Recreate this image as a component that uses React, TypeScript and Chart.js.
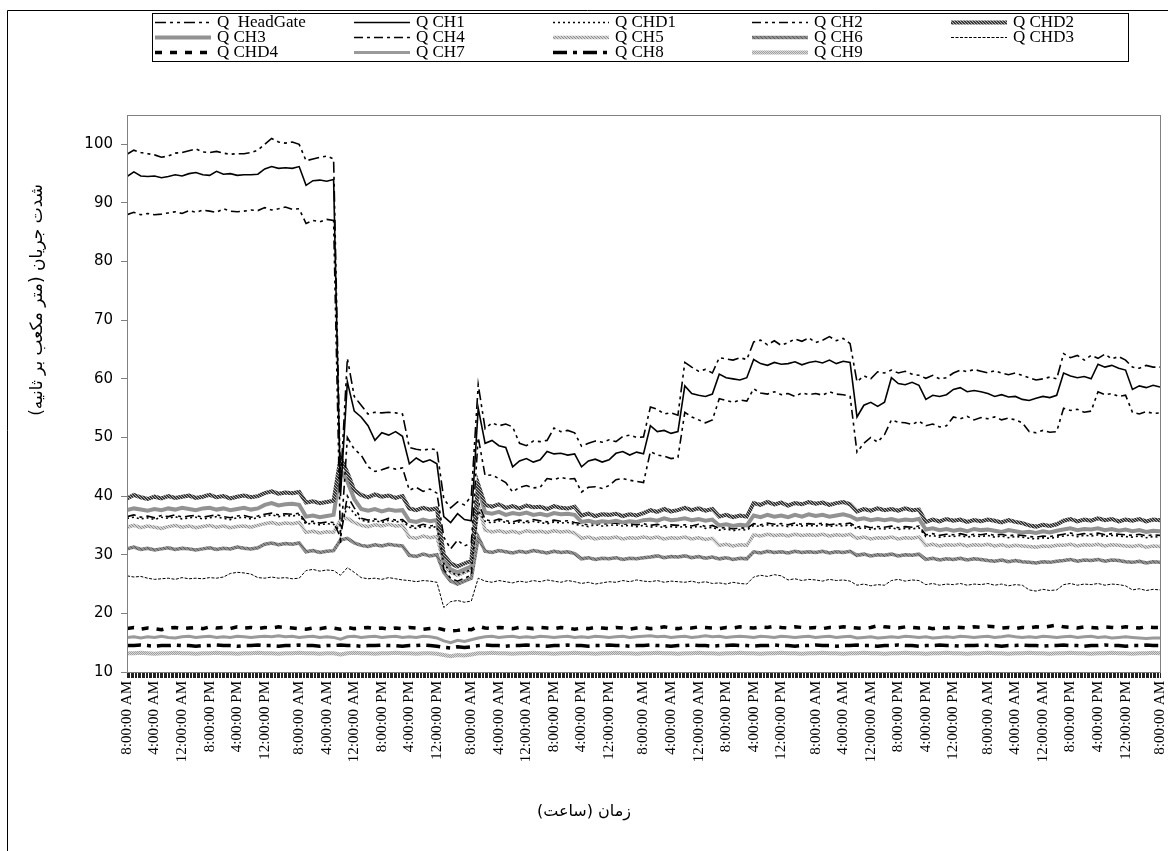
import React, { useEffect, useRef } from 'react';
import { Chart, registerables } from 'chart.js';

Chart.register(...registerables);

// ---------- axis / categories ----------
const TICK_LABELS = [
  '8:00:00 AM', '4:00:00 AM', '12:00:00 AM', '8:00:00 PM', '4:00:00 PM', '12:00:00 PM',
  '8:00:00 AM', '4:00:00 AM', '12:00:00 AM', '8:00:00 PM', '4:00:00 PM', '12:00:00 PM',
  '8:00:00 AM', '4:00:00 AM', '12:00:00 AM', '8:00:00 PM', '4:00:00 PM', '12:00:00 PM',
  '8:00:00 AM', '4:00:00 AM', '12:00:00 AM', '8:00:00 PM', '4:00:00 PM', '12:00:00 PM',
  '8:00:00 AM', '4:00:00 AM', '12:00:00 AM', '8:00:00 PM', '4:00:00 PM', '12:00:00 PM',
  '8:00:00 AM', '4:00:00 AM', '12:00:00 AM', '8:00:00 PM', '4:00:00 PM', '12:00:00 PM',
  '8:00:00 AM',
];
// number of time steps between consecutive labelled categories (repeating)
const LABEL_STEPS = [20, 20, 20, 20, 20, 25];
// every series is sampled every SAMPLE_STEP time steps
const SAMPLE_STEP = 5;

const Y_TICKS = [10, 20, 30, 40, 50, 60, 70, 80, 90, 100];

const SERIES_NAMES = [
  'Q  HeadGate', 'Q CH1', 'Q CHD1', 'Q CH2', 'Q CHD2',
  'Q CH3', 'Q CH4', 'Q CH5', 'Q CH6', 'Q CHD3',
  'Q CHD4', 'Q CH7', 'Q CH8', 'Q CH9',
];

// ---------- series values ----------
const Q_HEADGATE = [
  98.3, 99.0, 98.6, 98.4, 98.2, 97.8, 98.0, 98.5, 98.6, 98.9,
  99.2, 98.7, 98.6, 98.8, 98.5, 98.3, 98.4, 98.4, 98.6, 99.0,
  100.0, 101.0, 100.4, 100.2, 100.4, 100.0, 97.2, 97.5, 97.8, 98.0,
  97.5, 42.0, 63.5, 57.0, 55.5, 54.0, 54.3, 54.2, 54.3, 54.2,
  54.0, 48.3, 48.0, 47.8, 48.1, 47.9, 39.5, 38.0, 39.0, 38.5,
  40.0, 59.0, 51.5, 52.5, 52.0, 52.3, 51.8, 49.0, 48.6, 49.4,
  49.3, 49.5, 51.6, 51.0, 51.2, 50.8, 48.5, 49.0, 49.4, 49.2,
  49.6, 49.3, 50.2, 50.4, 50.0, 50.1, 55.2, 54.8, 54.0, 54.2,
  53.8, 62.8, 62.0, 61.3, 61.6, 61.0, 63.6, 63.4, 63.2, 63.6,
  63.3, 66.3, 66.6, 65.8, 66.5, 65.7, 66.2, 66.8, 66.4, 67.0,
  66.2, 66.6, 67.2, 66.5, 66.9, 66.0, 59.5, 60.5, 60.0, 61.2,
  61.0, 61.5, 61.0, 61.3, 60.8, 60.6, 60.1, 60.6, 60.0, 60.2,
  61.0, 61.5, 61.2, 61.6, 61.3, 61.0, 61.4, 61.0, 60.7, 61.0,
  60.6, 60.2, 59.8, 60.0, 60.3, 60.0, 64.3, 63.6, 64.0, 63.2,
  64.0, 63.5, 64.2, 63.4, 63.8, 63.2, 62.0, 61.8, 62.3, 62.0,
  62.0,
];
const Q_CH1 = [
  94.5, 95.3, 94.6, 94.5, 94.6, 94.3, 94.5, 94.8, 94.6, 95.0,
  95.2, 94.8, 94.7, 95.4, 94.9, 95.0, 94.7, 94.8, 94.8, 94.9,
  95.8, 96.2, 95.9, 96.0, 95.9, 96.2, 93.0, 93.8, 93.9, 93.7,
  94.0, 40.0, 59.5, 54.5, 53.5, 52.0, 49.5, 50.8, 50.4, 51.0,
  50.2, 45.5, 46.5, 45.8, 46.2, 45.5, 36.5, 35.5, 37.0, 36.0,
  35.8, 55.0, 49.0, 49.5, 48.6, 48.3, 45.0, 46.0, 46.4, 45.8,
  46.2, 47.6, 47.2, 47.3, 47.0, 47.2, 45.0, 46.0, 46.3, 45.8,
  46.2, 47.3, 47.6, 47.0, 47.5, 47.2, 52.0, 51.0, 51.2, 50.7,
  51.0, 58.8, 57.5, 57.2, 57.0, 57.4, 60.8, 60.2, 60.0, 59.8,
  60.2, 63.3, 62.6, 62.3, 62.8, 62.5, 62.6, 62.9, 62.4, 62.8,
  63.0, 62.7, 63.2, 62.6, 63.0, 62.8, 53.5, 55.5, 56.0, 55.3,
  56.0, 60.2, 59.2, 59.0, 59.4, 58.9, 56.5, 57.2, 57.0, 57.3,
  58.2, 58.5, 57.8, 58.0, 57.8, 57.5, 57.0, 57.3, 56.9, 57.0,
  56.5, 56.3, 56.7, 57.0, 56.8, 57.2, 61.0, 60.5, 60.2, 60.4,
  60.0, 62.5, 62.0, 62.3, 61.8, 61.5, 58.2, 58.8, 58.5, 58.9,
  58.6,
];
const Q_CHD1 = [
  36.2, 36.4, 36.1, 36.3, 36.0, 36.4, 36.2, 36.5, 36.1, 36.3,
  36.4, 36.1, 36.3, 36.5, 36.2, 36.0, 36.3, 36.4, 36.1, 36.3,
  36.6, 36.8, 36.5, 36.7, 36.6, 36.8, 35.2, 35.4, 35.1, 35.3,
  35.2, 34.0, 38.5, 37.0, 35.9, 35.6, 35.8, 35.5, 35.9, 35.6,
  35.7, 34.7, 34.5, 34.9, 34.6, 34.8, 28.5, 27.0, 26.5, 27.0,
  27.5, 37.5, 35.7, 35.4, 35.8, 35.5, 35.3, 35.6, 35.4, 35.7,
  35.5, 35.3, 35.6, 35.4, 35.5, 35.2, 35.0, 34.8, 35.1, 34.9,
  35.0, 35.1, 34.9, 35.0, 34.8, 35.0, 34.7, 34.9, 34.6, 34.8,
  34.7, 34.8, 34.6, 34.9, 34.5, 34.7, 34.2, 34.4, 34.1, 34.3,
  34.2, 35.0, 34.8, 35.1, 34.9, 35.0, 34.8, 35.1, 34.9, 35.0,
  34.9, 35.1, 34.8, 35.0, 34.9, 35.1, 34.4, 34.6, 34.3, 34.5,
  34.4, 34.6, 34.3, 34.5, 34.4, 34.6, 33.1, 33.3, 33.0, 33.2,
  33.1, 33.3, 33.0, 33.2, 33.1, 33.3, 33.0, 33.2, 32.9, 33.1,
  33.0, 32.8, 32.7, 32.9, 32.8, 33.0, 33.2, 33.4, 33.1, 33.3,
  33.2, 33.4, 33.1, 33.3, 33.2, 33.1, 33.0, 33.2, 32.9, 33.1,
  33.0,
];
const Q_CH2 = [
  88.0, 88.4, 88.0, 88.2, 88.0, 88.1, 88.3, 88.5, 88.2, 88.7,
  88.4, 88.8, 88.6, 88.4, 89.0, 88.6, 88.5, 88.6, 88.8, 88.7,
  89.2, 88.8, 89.0, 89.3, 88.9, 89.0, 86.5, 87.0, 86.8, 87.2,
  87.0, 32.0, 50.0, 48.0, 47.0, 45.0, 44.2, 44.5, 44.9, 44.6,
  44.8, 41.0, 41.5, 40.8, 41.2, 40.5, 33.0, 31.0, 32.5, 31.5,
  32.0, 50.0, 43.5, 43.6, 43.0, 42.3, 40.7, 41.5, 41.8, 41.4,
  41.5, 43.0, 42.8, 43.2, 42.9, 43.0, 40.7, 41.5, 41.6, 41.3,
  41.8, 42.8, 43.0, 42.7, 42.5, 42.3, 47.6, 47.0, 46.8, 46.4,
  46.6, 54.3, 53.5, 53.0, 52.5, 53.0, 56.6, 56.3, 56.0, 56.4,
  56.2, 58.3, 57.6, 57.4, 57.8, 57.3, 57.5, 57.0, 57.6, 57.3,
  57.5, 57.2, 57.8, 57.4, 57.3, 57.0, 47.5, 49.0, 50.0, 49.2,
  50.5, 53.0, 52.6, 52.5, 52.2, 52.8, 52.0, 52.3, 51.8, 52.0,
  53.5, 53.2, 53.6, 53.0, 53.4, 53.2, 53.5, 53.0, 53.3, 53.0,
  52.5, 51.0, 50.8, 51.2, 50.9, 51.0, 55.0, 54.6, 54.8, 54.3,
  54.5, 57.8, 57.3, 57.5, 57.0, 57.2, 54.3, 54.0, 54.4, 54.1,
  54.2,
];
const Q_CHD2 = [
  39.6, 40.2, 39.8, 39.5, 39.9, 39.6, 40.0, 39.7, 39.9, 40.1,
  39.7, 39.9, 40.2, 39.8, 40.0, 39.6, 39.9, 40.1, 39.8, 40.0,
  40.5, 40.8, 40.4, 40.6, 40.5, 40.7, 38.9, 39.1, 38.8, 39.0,
  39.2, 46.5, 44.0, 41.0, 40.2, 39.8, 40.3, 39.9, 40.1, 39.7,
  40.0, 37.9, 37.6, 38.0, 37.7, 37.9, 30.0, 28.5, 28.0, 28.5,
  29.0, 42.0, 38.5, 38.2, 38.6, 38.0, 38.3, 37.9, 38.4, 38.1,
  38.2, 37.8, 38.3, 38.0, 37.9, 38.2, 36.7, 37.0, 36.6, 36.9,
  36.8, 37.0, 36.6, 36.9, 36.7, 37.1, 37.6, 37.3, 37.8, 37.4,
  37.6, 38.0, 37.6, 37.9, 37.5, 37.8, 36.5, 36.8, 36.4, 36.7,
  36.5, 38.8, 38.5, 39.0, 38.6, 38.9, 38.4, 38.8, 38.6, 39.0,
  38.7, 38.9, 38.5, 38.8, 39.0, 38.6, 37.4, 37.8, 37.5, 37.9,
  37.6, 37.8, 37.5, 37.9, 37.6, 37.7, 35.6, 36.0, 35.7, 36.1,
  35.8, 36.0, 35.6, 35.9, 35.7, 36.0, 35.8, 35.5, 35.9, 35.6,
  35.4, 35.0, 34.8, 35.1, 34.9, 35.2, 35.8, 36.1, 35.7, 36.0,
  35.8, 36.2, 35.9, 36.1, 35.7, 36.0, 35.8, 36.1, 35.7, 36.0,
  35.9,
];
const Q_CH3 = [
  37.6, 37.9, 37.7, 37.5, 37.8, 37.6, 37.9, 37.7, 38.0, 37.8,
  37.6, 37.9, 38.0, 37.7, 37.9, 37.6, 37.8, 38.0, 37.7, 37.9,
  38.5, 38.8, 38.4, 38.6, 38.7, 38.5, 36.5, 36.7, 36.4, 36.6,
  36.8, 44.5, 42.5, 39.5, 37.8, 37.5, 37.8, 37.4, 37.7, 37.5,
  37.6, 35.8, 35.6, 36.0, 35.7, 35.9, 29.0, 27.5, 27.0, 27.5,
  28.0, 41.5, 37.2, 37.0, 37.3, 36.8, 37.1, 36.9, 37.2, 36.8,
  37.0, 36.7, 37.1, 36.9, 37.0, 36.8, 35.6, 35.8, 35.5, 35.7,
  35.6, 35.8, 35.5, 35.7, 35.6, 35.9, 36.0, 35.8, 36.2, 35.9,
  36.0, 36.2, 35.9, 36.1, 35.8, 36.0, 35.0, 35.2, 34.9, 35.1,
  35.0, 36.7, 36.4, 36.8, 36.5, 36.7, 36.4, 36.8, 36.5, 36.9,
  36.6, 36.8, 36.5, 36.7, 36.9, 36.6, 36.0, 36.2, 35.9, 36.1,
  35.9, 36.1, 35.8, 36.0, 35.9, 36.1, 34.3, 34.5, 34.2, 34.4,
  34.1, 34.3, 34.0, 34.4, 34.2, 34.3, 34.1, 33.9, 34.2, 34.0,
  33.8, 33.9, 33.7, 34.0, 33.8, 34.1, 34.3, 34.5, 34.2, 34.4,
  34.3, 34.5, 34.2, 34.4, 34.1, 34.3, 34.0, 34.2, 33.9, 34.1,
  34.0,
];
const Q_CH4 = [
  36.5, 36.8, 36.4, 36.6, 36.3, 36.7, 36.5, 36.8, 36.4, 36.6,
  36.7, 36.4, 36.6, 36.8, 36.5, 36.3, 36.6, 36.7, 36.4, 36.6,
  36.9, 37.1, 36.8, 37.0, 36.9, 37.1, 35.5, 35.7, 35.4, 35.6,
  35.5, 33.0, 40.0, 38.0, 36.2, 35.9, 36.1, 35.8, 36.2, 35.9,
  36.0, 35.0, 34.8, 35.2, 34.9, 35.1, 27.5, 26.0, 25.5, 26.0,
  26.5, 39.0, 36.0, 35.7, 36.1, 35.8, 35.6, 35.9, 35.7, 36.0,
  35.8, 35.6, 35.9, 35.7, 35.8, 35.5, 35.3, 35.1, 35.4, 35.2,
  35.3, 35.4, 35.2, 35.3, 35.1, 35.3, 35.0, 35.2, 34.9, 35.1,
  35.0, 35.1, 34.9, 35.2, 34.8, 35.0, 34.5, 34.7, 34.4, 34.6,
  34.5, 35.3, 35.1, 35.4, 35.2, 35.3, 35.1, 35.4, 35.2, 35.3,
  35.2, 35.4, 35.1, 35.3, 35.2, 35.4, 34.7, 34.9, 34.6, 34.8,
  34.7, 34.9, 34.6, 34.8, 34.7, 34.9, 33.4, 33.6, 33.3, 33.5,
  33.4, 33.6, 33.3, 33.5, 33.4, 33.6, 33.3, 33.5, 33.2, 33.4,
  33.3, 33.1, 33.0, 33.2, 33.1, 33.3, 33.5, 33.7, 33.4, 33.6,
  33.5, 33.7, 33.4, 33.6, 33.5, 33.4, 33.3, 33.5, 33.2, 33.4,
  33.3,
];
const Q_CH5 = [
  34.7, 35.0, 34.6, 34.9, 34.7, 34.5, 34.8, 35.0, 34.7, 34.9,
  34.6, 34.8, 35.0, 34.7, 34.9, 34.6, 34.8, 34.9, 34.7, 35.0,
  35.3, 35.5, 35.2, 35.4, 35.3, 35.5, 33.8, 34.0, 33.7, 33.9,
  33.8, 36.0, 36.2, 35.5, 35.0, 34.8, 35.1, 34.9, 35.2, 34.9,
  35.0, 33.0, 32.8, 33.2, 32.9, 33.1, 28.5, 27.0, 26.5, 27.0,
  27.5, 38.5, 34.2, 33.9, 34.1, 33.8, 34.0, 33.7, 34.1, 33.9,
  34.0, 33.8, 34.1, 33.9, 34.0, 33.7, 32.8, 33.0, 32.7, 32.9,
  32.8, 33.0, 32.7, 32.9, 32.8, 33.0, 32.8, 33.0, 32.7, 32.9,
  32.8, 33.0, 32.7, 32.9, 32.6, 32.8, 31.6, 31.8, 31.5, 31.7,
  31.6, 33.4, 33.2, 33.5, 33.3, 33.4, 33.2, 33.5, 33.3, 33.4,
  33.3, 33.5, 33.2, 33.4, 33.3, 33.5, 32.8, 33.0, 32.7, 32.9,
  32.8, 33.0, 32.7, 32.9, 32.8, 33.0, 31.6, 31.8, 31.5, 31.7,
  31.6, 31.8, 31.5, 31.7, 31.6, 31.8, 31.5, 31.7, 31.4, 31.6,
  31.5, 31.4, 31.3, 31.5, 31.4, 31.6, 31.6, 31.8, 31.5, 31.7,
  31.6, 31.8, 31.5, 31.7, 31.6, 31.5, 31.4, 31.6, 31.3, 31.5,
  31.4,
];
const Q_CH6 = [
  31.0, 31.3, 30.9, 31.1, 30.8, 31.0, 31.2, 30.9, 31.1, 31.0,
  30.8, 31.0, 31.2, 30.9, 31.1, 31.0, 31.3, 31.1, 31.0, 31.2,
  31.8, 32.0, 31.7, 31.9, 31.8, 32.0, 30.5, 30.7, 30.4, 30.6,
  30.7, 32.5, 32.8, 32.0, 31.6, 31.4, 31.7, 31.5, 31.8, 31.6,
  31.5, 29.9, 29.7, 30.1, 29.8, 30.0, 27.0, 25.5, 25.0, 25.5,
  26.0, 33.0, 30.6, 30.4, 30.7, 30.5, 30.3, 30.6, 30.4, 30.7,
  30.5, 30.3, 30.6, 30.4, 30.5, 30.2, 29.3, 29.5, 29.2, 29.4,
  29.3, 29.5, 29.2, 29.4, 29.3, 29.5, 29.6, 29.8, 29.5, 29.7,
  29.6, 29.8, 29.5, 29.7, 29.4, 29.6, 29.3, 29.5, 29.2, 29.4,
  29.3, 30.5, 30.3, 30.6, 30.4, 30.5, 30.3, 30.6, 30.4, 30.5,
  30.4, 30.6, 30.3, 30.5, 30.4, 30.6, 29.9, 30.1, 29.8, 30.0,
  29.9, 30.1, 29.8, 30.0, 29.9, 30.1, 29.2, 29.4, 29.1, 29.3,
  29.2, 29.4, 29.1, 29.3, 29.2, 29.0, 28.9, 29.1, 28.8, 29.0,
  28.8, 28.7, 28.6, 28.8, 28.7, 28.9, 29.0, 29.2, 28.9, 29.1,
  29.0, 29.2, 28.9, 29.1, 29.0, 28.8, 28.7, 28.9, 28.6, 28.8,
  28.7,
];
const Q_CHD3 = [
  26.4, 26.2, 26.3, 26.0, 25.8, 25.9, 26.0, 25.8, 26.1, 25.9,
  26.0, 25.9, 26.1, 26.0, 26.2, 26.8, 27.0, 26.9, 26.7, 26.1,
  26.0, 26.2, 26.0, 26.1, 25.9, 26.0, 27.3, 27.5, 27.2, 27.4,
  27.3, 26.5, 27.8, 27.0, 26.1, 25.9, 26.0, 25.8, 26.1, 25.9,
  25.7, 25.6, 25.4, 25.6, 25.5, 25.3, 21.0, 22.0, 22.2, 21.9,
  22.1, 26.0, 25.5, 25.3, 25.6, 25.4, 25.2, 25.5, 25.3, 25.6,
  25.4, 25.7, 25.5, 25.3, 25.6, 25.4, 25.1, 25.3, 25.0, 25.2,
  25.4, 25.3, 25.6, 25.4, 25.7, 25.5, 25.4, 25.6, 25.3, 25.5,
  25.4, 25.3, 25.5, 25.2, 25.4, 25.1, 25.2, 25.0, 25.3, 25.1,
  25.0, 26.2, 26.5, 26.3, 26.6, 26.4, 25.7, 25.9, 25.6, 25.8,
  25.7, 25.5, 25.8, 25.6, 25.7, 25.5, 24.8, 25.0, 24.7, 24.9,
  24.8, 25.6, 25.8, 25.5, 25.7, 25.6, 24.9, 25.1, 24.8, 25.0,
  24.9, 25.1, 24.8, 25.0, 24.9, 25.1, 24.8, 25.0, 24.7, 24.9,
  24.8, 24.0, 23.8, 24.1, 23.9, 24.0, 24.9, 25.1, 24.8, 25.0,
  24.9, 25.1, 24.8, 25.0, 24.9, 24.7, 24.0, 24.2, 23.9, 24.1,
  24.0,
];
const Q_CHD4 = [
  17.4, 17.6, 17.3, 17.5, 17.4, 17.2, 17.5, 17.6, 17.4, 17.5,
  17.6, 17.4, 17.7, 17.5, 17.6, 17.4, 17.7, 17.5, 17.6, 17.4,
  17.6, 17.5, 17.7, 17.6, 17.5, 17.4, 17.3, 17.5, 17.4, 17.6,
  17.5, 17.3, 17.6, 17.4, 17.5, 17.6, 17.4, 17.5, 17.3, 17.5,
  17.4, 17.6, 17.5, 17.3, 17.4, 17.5, 17.2, 17.0, 17.1, 17.3,
  17.2, 17.8, 17.5, 17.4, 17.6, 17.5, 17.4, 17.6, 17.5, 17.4,
  17.6, 17.5, 17.4, 17.6, 17.5, 17.3, 17.5, 17.4, 17.6, 17.5,
  17.4, 17.6, 17.5, 17.3, 17.5, 17.6, 17.4, 17.5, 17.7, 17.5,
  17.4, 17.6, 17.5, 17.7, 17.6, 17.5, 17.4, 17.6, 17.5, 17.7,
  17.6, 17.5, 17.7, 17.6, 17.8, 17.6, 17.5, 17.7, 17.6, 17.5,
  17.6, 17.4, 17.6, 17.5, 17.7, 17.6, 17.5, 17.4, 17.6, 17.9,
  17.7, 17.6, 17.5, 17.7, 17.6, 17.5, 17.6, 17.4, 17.6, 17.5,
  17.7, 17.6, 17.5, 17.7, 17.6, 17.8, 17.7, 17.5, 17.6, 17.4,
  17.6, 17.5, 17.7, 17.6, 17.8, 18.0, 17.7, 17.6, 17.5, 17.7,
  17.6, 17.5, 17.7, 17.6, 17.5, 17.7, 17.6, 17.5, 17.7, 17.6,
  17.6,
];
const Q_CH7 = [
  15.9, 16.0, 15.8, 16.0, 15.9, 16.1, 15.9, 15.8, 16.0, 16.1,
  15.9, 16.0, 16.1, 15.9, 16.0, 15.9, 16.1, 16.0, 15.9, 16.0,
  16.1, 16.0, 16.2, 16.0, 16.1, 15.9, 16.0, 16.1, 15.9, 16.0,
  15.9, 15.6, 16.0, 16.1, 15.9, 16.0, 16.1, 15.9, 16.0, 16.1,
  15.9, 16.0, 15.9, 16.1, 16.0, 15.8, 15.3, 15.0, 15.4, 15.2,
  15.5, 15.8, 16.0, 16.1, 15.9, 16.0, 16.1, 15.9, 16.0, 15.9,
  16.1, 16.0, 15.9, 16.0, 16.1, 15.9, 16.0, 15.9, 16.1, 16.0,
  15.9, 16.0, 16.1, 15.9, 16.0, 16.1, 16.2, 16.0, 16.1, 15.9,
  16.0, 16.1, 15.9, 16.0, 16.2, 16.0, 16.1, 15.9, 16.0, 16.1,
  16.0, 15.9, 16.1, 16.0, 15.9, 16.1, 16.0, 15.9, 16.0, 16.1,
  15.9, 16.0, 16.1, 15.9, 16.0, 16.1, 15.8, 15.9, 16.0, 15.8,
  15.9, 16.0, 15.9, 16.1, 16.0, 15.9, 16.0, 15.8, 15.9, 16.0,
  15.9, 16.1, 16.0, 15.9, 16.0, 16.1, 15.9, 16.0, 16.2, 16.0,
  15.9, 16.0, 15.9, 16.1, 16.0, 15.9, 16.0, 16.1, 15.9, 16.0,
  16.1, 15.9, 16.0, 15.8, 15.9, 16.0, 15.9, 15.8, 15.7, 15.8,
  15.8,
];
const Q_CH8 = [
  14.5, 14.5, 14.6, 14.5, 14.4, 14.5, 14.5, 14.6, 14.5, 14.5,
  14.4, 14.5, 14.5, 14.6, 14.5, 14.5, 14.4, 14.5, 14.5, 14.6,
  14.5, 14.5, 14.4, 14.5, 14.5, 14.6, 14.5, 14.5, 14.4, 14.5,
  14.5, 14.6, 14.5, 14.5, 14.4, 14.5, 14.5, 14.6, 14.5, 14.5,
  14.4, 14.5, 14.5, 14.6, 14.5, 14.4, 14.2, 14.1, 14.3, 14.2,
  14.3, 14.5, 14.6, 14.5, 14.5, 14.4, 14.5, 14.5, 14.6, 14.5,
  14.5, 14.4, 14.5, 14.5, 14.6, 14.5, 14.5, 14.4, 14.5, 14.5,
  14.6, 14.5, 14.5, 14.4, 14.5, 14.5, 14.6, 14.5, 14.5, 14.4,
  14.5, 14.5, 14.6, 14.5, 14.5, 14.4, 14.5, 14.5, 14.6, 14.5,
  14.5, 14.4, 14.5, 14.5, 14.6, 14.5, 14.5, 14.4, 14.5, 14.5,
  14.6, 14.5, 14.5, 14.4, 14.5, 14.5, 14.6, 14.5, 14.5, 14.4,
  14.5, 14.5, 14.6, 14.5, 14.5, 14.4, 14.5, 14.5, 14.6, 14.5,
  14.5, 14.4, 14.5, 14.5, 14.6, 14.5, 14.5, 14.4, 14.5, 14.5,
  14.6, 14.5, 14.5, 14.4, 14.5, 14.5, 14.6, 14.5, 14.5, 14.4,
  14.5, 14.5, 14.6, 14.5, 14.5, 14.4, 14.5, 14.5, 14.6, 14.5,
  14.5,
];
const Q_CH9 = [
  13.2, 13.2, 13.3, 13.2, 13.1, 13.2, 13.2, 13.3, 13.2, 13.2,
  13.1, 13.2, 13.2, 13.3, 13.2, 13.2, 13.1, 13.2, 13.2, 13.3,
  13.2, 13.2, 13.1, 13.2, 13.2, 13.3, 13.2, 13.2, 13.1, 13.2,
  13.2, 13.0, 13.2, 13.3, 13.2, 13.2, 13.1, 13.2, 13.2, 13.3,
  13.2, 13.2, 13.1, 13.2, 13.2, 13.1, 12.9, 12.7, 12.9, 12.8,
  13.0, 13.2, 13.2, 13.3, 13.2, 13.2, 13.1, 13.2, 13.2, 13.3,
  13.2, 13.2, 13.1, 13.2, 13.2, 13.3, 13.2, 13.2, 13.1, 13.2,
  13.2, 13.3, 13.2, 13.2, 13.1, 13.2, 13.2, 13.3, 13.2, 13.2,
  13.1, 13.2, 13.2, 13.3, 13.2, 13.2, 13.1, 13.2, 13.2, 13.3,
  13.2, 13.2, 13.1, 13.2, 13.2, 13.3, 13.2, 13.2, 13.1, 13.2,
  13.2, 13.3, 13.2, 13.2, 13.1, 13.2, 13.2, 13.3, 13.2, 13.2,
  13.1, 13.2, 13.2, 13.3, 13.2, 13.2, 13.1, 13.2, 13.2, 13.3,
  13.2, 13.2, 13.1, 13.2, 13.2, 13.3, 13.2, 13.2, 13.1, 13.2,
  13.2, 13.3, 13.2, 13.2, 13.1, 13.2, 13.2, 13.3, 13.2, 13.2,
  13.1, 13.2, 13.2, 13.3, 13.2, 13.2, 13.1, 13.2, 13.2, 13.3,
  13.2,
];

const Y_TITLE = 'شدت جریان (متر مکعب بر ثانیه)\u200F';
const X_TITLE = 'زمان (ساعت)\u200F';

// ---------- derived helpers ----------
function buildLabelMap() {
  const map = new Map<number, string>();
  let pos = 0;
  TICK_LABELS.forEach((lab, i) => {
    map.set(pos, lab);
    pos += LABEL_STEPS[i % LABEL_STEPS.length];
  });
  return map;
}
const LABEL_MAP = buildLabelMap();
const LAST_INDEX = Math.max(...Array.from(LABEL_MAP.keys()));

function toPoints(values: number[]) {
  return values.map((y, i) => ({ x: i * SAMPLE_STEP, y }));
}

function makePattern(ctx: CanvasRenderingContext2D, base: string, dot: string, size: number) {
  const c = document.createElement('canvas');
  c.width = size;
  c.height = size;
  const g = c.getContext('2d')!;
  g.fillStyle = base;
  g.fillRect(0, 0, size, size);
  g.fillStyle = dot;
  for (let i = 0; i < size; i++) g.fillRect(i, i, 1, 1);
  return ctx.createPattern(c, 'repeat') as CanvasPattern;
}

export default function App() {
  const ref = useRef<HTMLCanvasElement>(null);

  useEffect(() => {
    const canvas = ref.current!;
    const ctx = canvas.getContext('2d')!;

    const patCHD2 = makePattern(ctx, '#3a3a3a', '#b0b0b0', 3);
    const patCH5 = makePattern(ctx, '#d2d2d2', '#8a8a8a', 3);
    const patCH6 = makePattern(ctx, '#8e8e8e', '#5a5a5a', 4);
    const patCH9 = makePattern(ctx, '#d8d8d8', '#a0a0a0', 2);

    const styles: any[] = [
      { c: '#000', w: 1.6, d: [11, 4, 3, 4, 3, 4] }, // HeadGate
      { c: '#000', w: 1.6, d: [] }, // CH1
      { c: '#000', w: 1.6, d: [2, 3] }, // CHD1
      { c: '#000', w: 1.6, d: [9, 4, 3, 4, 3, 4] }, // CH2
      { c: patCHD2, w: 4, d: [] }, // CHD2
      { c: '#929292', w: 4, d: [] }, // CH3
      { c: '#000', w: 1.6, d: [9, 4, 3, 4] }, // CH4
      { c: patCH5, w: 3.5, d: [] }, // CH5
      { c: patCH6, w: 3.5, d: [] }, // CH6
      { c: '#000', w: 1, d: [3, 1.5] }, // CHD3
      { c: '#000', w: 3.5, d: [7, 8] }, // CHD4
      { c: '#9a9a9a', w: 3, d: [] }, // CH7
      { c: '#000', w: 3.5, d: [14, 6, 4, 6] }, // CH8
      { c: patCH9, w: 4, d: [] }, // CH9
    ];
    const values = [
      Q_HEADGATE, Q_CH1, Q_CHD1, Q_CH2, Q_CHD2,
      Q_CH3, Q_CH4, Q_CH5, Q_CH6, Q_CHD3,
      Q_CHD4, Q_CH7, Q_CH8, Q_CH9,
    ];

    const datasets = values.map((v, i) => ({
      label: SERIES_NAMES[i],
      data: toPoints(v),
      borderColor: styles[i].c,
      backgroundColor: styles[i].c,
      borderWidth: styles[i].w,
      borderDash: styles[i].d,
      pointRadius: 0,
      tension: 0,
      fill: false,
    }));

    const framePlugin = {
      id: 'frame',
      beforeDraw(chart: any) {
        const c = chart.ctx;
        c.save();
        c.fillStyle = '#fff';
        c.fillRect(0, 0, chart.width, chart.height);
        c.strokeStyle = '#000';
        c.lineWidth = 1;
        c.beginPath();
        c.moveTo(7.5, chart.height);
        c.lineTo(7.5, 10.5);
        c.lineTo(chart.width, 10.5);
        c.stroke();
        c.restore();
      },
      afterDatasetsDraw(chart: any) {
        const { left, top, right, bottom } = chart.chartArea;
        const c = chart.ctx;
        c.save();
        c.strokeStyle = '#808080';
        c.lineWidth = 1;
        c.strokeRect(Math.round(left) + 0.5, Math.round(top) + 0.5, Math.round(right - left), Math.round(bottom - top));
        c.restore();
      },
    };

    const legendPlugin = {
      id: 'gridLegend',
      afterDraw(chart: any) {
        const c = chart.ctx;
        const colX = [155, 354, 553, 752, 951];
        const rowY = [22, 37, 52];
        c.save();
        c.strokeStyle = '#000';
        c.lineWidth = 1;
        c.strokeRect(152.5, 13.5, 976, 48);
        c.font = '17px "Liberation Serif"';
        c.textBaseline = 'middle';
        c.textAlign = 'left';
        chart.data.datasets.forEach((ds: any, i: number) => {
          const x = colX[i % 5];
          const y = rowY[Math.floor(i / 5)];
          c.save();
          c.strokeStyle = ds.borderColor;
          c.lineWidth = ds.borderWidth;
          c.setLineDash(ds.borderDash || []);
          c.beginPath();
          c.moveTo(x, y + 0.5);
          c.lineTo(x + 56, y + 0.5);
          c.stroke();
          c.restore();
          c.fillStyle = '#000';
          c.fillText(ds.label, x + 62, y + 1);
        });
        c.restore();
      },
    };

    const titlePlugin = {
      id: 'axisTitles',
      afterDraw(chart: any) {
        const c = chart.ctx;
        c.save();
        c.fillStyle = '#000';
        c.textAlign = 'center';
        c.textBaseline = 'middle';
        c.direction = 'rtl';
        c.font = '17px "DejaVu Sans"';
        c.translate(38, 300);
        c.rotate(-Math.PI / 2);
        c.fillText(Y_TITLE, 0, 0);
        c.restore();
        c.save();
        c.fillStyle = '#000';
        c.textAlign = 'center';
        c.textBaseline = 'middle';
        c.direction = 'rtl';
        c.font = '16px "DejaVu Sans"';
        c.fillText(X_TITLE, 584, 812);
        c.restore();
      },
    };

    const chart = new Chart(canvas, {
      type: 'line',
      data: { datasets },
      options: {
        animation: false,
        responsive: false,
        devicePixelRatio: 1,
        events: [],
        layout: { padding: { top: 115, right: 8, left: 0, bottom: 0 } },
        plugins: { legend: { display: false }, tooltip: { enabled: false } },
        scales: {
          x: {
            type: 'linear',
            min: 0,
            max: LAST_INDEX,
            afterBuildTicks: (axis: any) => {
              const t = [];
              for (let i = 0; i <= LAST_INDEX; i++) t.push({ value: i });
              axis.ticks = t;
            },
            afterFit: (axis: any) => {
              axis.height = 179;
              axis.paddingLeft = 0;
              axis.paddingRight = 0;
            },
            ticks: {
              autoSkip: false,
              minRotation: 90,
              maxRotation: 90,
              padding: 3,
              color: '#000',
              font: { family: '"Liberation Serif"', size: 15 },
              callback: (v: any) => LABEL_MAP.get(Number(v)) ?? '',
            },
            grid: { drawOnChartArea: false, tickLength: 6, color: '#222', lineWidth: 1 },
            border: { color: '#808080' },
          },
          y: {
            type: 'linear',
            min: 10,
            max: 105,
            afterBuildTicks: (axis: any) => {
              axis.ticks = Y_TICKS.map((v) => ({ value: v }));
            },
            afterFit: (axis: any) => {
              axis.width = 127;
              axis.paddingTop = 0;
              axis.paddingBottom = 0;
            },
            ticks: {
              color: '#000',
              padding: 8,
              font: { family: '"DejaVu Sans"', size: 15 },
            },
            grid: { drawOnChartArea: false, tickLength: 6, color: '#808080' },
            border: { color: '#808080' },
          },
        },
      },
      plugins: [framePlugin, legendPlugin, titlePlugin],
    } as any);

    return () => chart.destroy();
  }, []);

  return (
    <div style={{ position: 'fixed', left: 0, top: 0, width: 1168, height: 851, background: '#fff' }}>
      <canvas ref={ref} width={1168} height={851} style={{ display: 'block', width: 1168, height: 851 }} />
    </div>
  );
}
